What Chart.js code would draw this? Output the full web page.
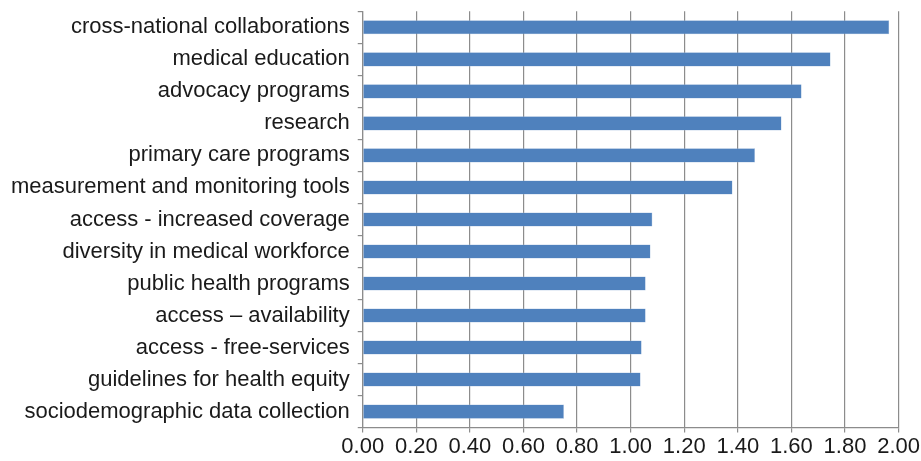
<!DOCTYPE html>
<html>
<head>
<meta charset="utf-8">
<script src="https://cdn.jsdelivr.net/npm/chart.js@4/dist/chart.umd.min.js"></script>
<style>
  html, body { margin: 0; padding: 0; background: #fff; }
</style>
</head>
<body>
<canvas id="chart" width="921" height="461"></canvas>
<script>
const categories = [
  'cross-national collaborations',
  'medical education',
  'advocacy programs',
  'research',
  'primary care programs',
  'measurement and monitoring tools',
  'access - increased coverage',
  'diversity in medical workforce',
  'public health programs',
  'access \u2013 availability',
  'access - free-services',
  'guidelines for health equity',
  'sociodemographic data collection'
];
const scores = [1.965, 1.746, 1.638, 1.563, 1.464, 1.380, 1.081, 1.074, 1.056, 1.056, 1.041, 1.037, 0.751];
const xTicks = [0, 0.2, 0.4, 0.6, 0.8, 1.0, 1.2, 1.4, 1.6, 1.8, 2.0];

const ctx = document.getElementById('chart').getContext('2d');

new Chart(ctx, {
  type: 'bar',
  data: {
    labels: categories,
    datasets: [{
      data: scores,
      backgroundColor: '#4F81BD',
      borderColor: '#9BB7DA',
      borderWidth: 0.5,
      barPercentage: 0.44,
      categoryPercentage: 1
    }]
  },
  options: {
    indexAxis: 'y',
    responsive: false,
    animation: false,
    layout: { padding: { top: 0, right: 0, bottom: 0, left: 3 } },
    plugins: {
      legend: { display: false },
      tooltip: { enabled: false }
    },
    scales: {
      x: {
        min: 0,
        max: 2,
        afterBuildTicks: function(axis) {
          axis.ticks = xTicks.map(v => ({ value: v }));
        },
        ticks: {
          color: '#1a1a1a',
          font: { family: 'Liberation Sans', size: 22 },
          padding: 1,
          callback: v => Number(v).toFixed(2)
        },
        grid: { color: '#8c8c8c', lineWidth: 1.2, tickLength: 5 },
        border: { color: '#8c8c8c', width: 1.2 }
      },
      y: {
        offset: true,
        ticks: {
          color: '#1a1a1a',
          font: { family: 'Liberation Sans', size: 22, lineHeight: 0.3 },
          padding: 8
        },
        grid: { offset: true, drawOnChartArea: false, color: '#8c8c8c', lineWidth: 1.2, tickLength: 5 },
        border: { color: '#8c8c8c', width: 1.2 }
      }
    }
  }
});
</script>
</body>
</html>
